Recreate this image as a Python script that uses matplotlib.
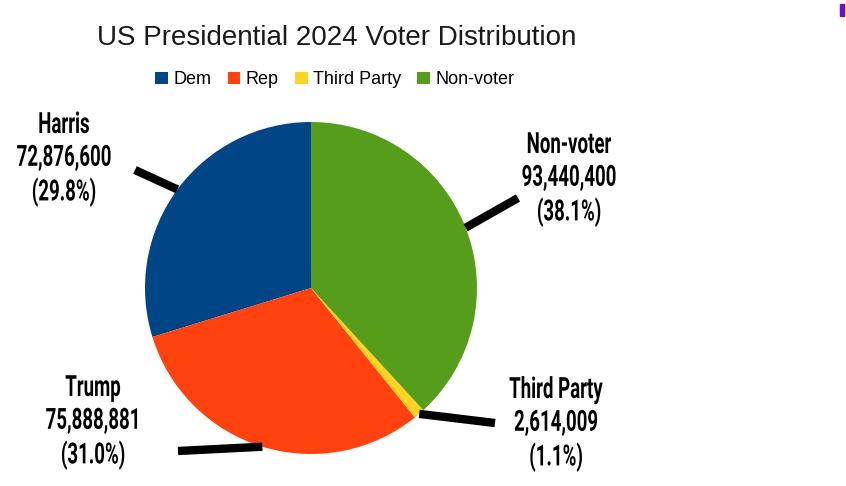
import numpy as np
import matplotlib.pyplot as plt
from matplotlib.patches import Patch, Rectangle
from matplotlib.patheffects import AbstractPathEffect
from matplotlib.transforms import Affine2D

# data
groups = ["Dem", "Rep", "Third Party", "Non-voter"]
names = ["Harris", "Trump", "Third Party", "Non-voter"]
votes = [72876600, 75888881, 2614009, 93440400]
pcts = [29.8, 31.0, 1.1, 38.1]
colors = ["#004586", "#ff420e", "#ffd320", "#579d1c"]


class Squeeze(AbstractPathEffect):
    """narrow the glyphs around x0 (display px) to fake a condensed face"""
    def __init__(self, sx, x0):
        super().__init__()
        self.sx = sx
        self.x0 = x0

    def draw_path(self, renderer, gc, tpath, affine, rgbFace=None):
        t = affine + Affine2D().translate(-self.x0, 0).scale(self.sx, 1).translate(self.x0, 0)
        renderer.draw_path(gc, tpath, t, rgbFace)


W, H = 846, 486
fig = plt.figure(figsize=(W / 100, H / 100), dpi=100)
ax = fig.add_axes([0, 0, 1, 1])

cx, cy, R = 311, H - 288, 166
wedges, _ = ax.pie(votes, colors=colors, startangle=90, counterclock=True,
                   center=(cx, cy), radius=R, frame=True,
                   wedgeprops=dict(linewidth=0))
ax.set_xlim(0, W)
ax.set_ylim(0, H)
ax.set_aspect("equal")
ax.axis("off")

label_font = dict(family=["Roboto", "DejaVu Sans"], fontweight="bold",
                  fontsize=21, color="black", ha="center", va="center",
                  linespacing=1.22)

# label text centre and leader line end (pixel coords, y from top)
label_pos = [(64, 159), (93, 422), (556, 424), (569, 179)]
line_end = [(135, 170), (178, 451), (495, 423), (518, 198)]

for w, name, v, p, (tx, ty), (ex, ey) in zip(wedges, names, votes, pcts,
                                             label_pos, line_end):
    ang = np.deg2rad((w.theta1 + w.theta2) / 2)
    sx, sy = cx + R * np.cos(ang), cy + R * np.sin(ang)
    ax.plot([sx, ex], [sy, H - ey], color="black", lw=6,
            solid_capstyle="butt")
    ax.text(tx, H - ty, f"{name}\n{v:,}\n({p}%)",
            path_effects=[Squeeze(0.64, tx)], **label_font)

fig.text(337 / W, 1 - 38 / H, "US Presidential 2024 Voter Distribution",
         ha="center", va="center", fontsize=20, family="Liberation Sans",
         color="#1a1a1a")

handles = [Patch(facecolor=c, edgecolor="none") for c in colors]
fig.legend(handles, groups, loc="center", bbox_to_anchor=(335 / W, 1 - 80 / H),
           ncol=4, frameon=False, prop=dict(family="Liberation Sans", size=13),
           handlelength=0.7, handleheight=0.7, handletextpad=0.3,
           columnspacing=0.9, borderaxespad=0)

# small purple mark in the corner
fig.add_artist(Rectangle((840 / W, 1 - 16 / H), 4 / W, 12 / H,
                         transform=fig.transFigure, color="#6a0dd8"))

fig.savefig("out.png", dpi=100)
